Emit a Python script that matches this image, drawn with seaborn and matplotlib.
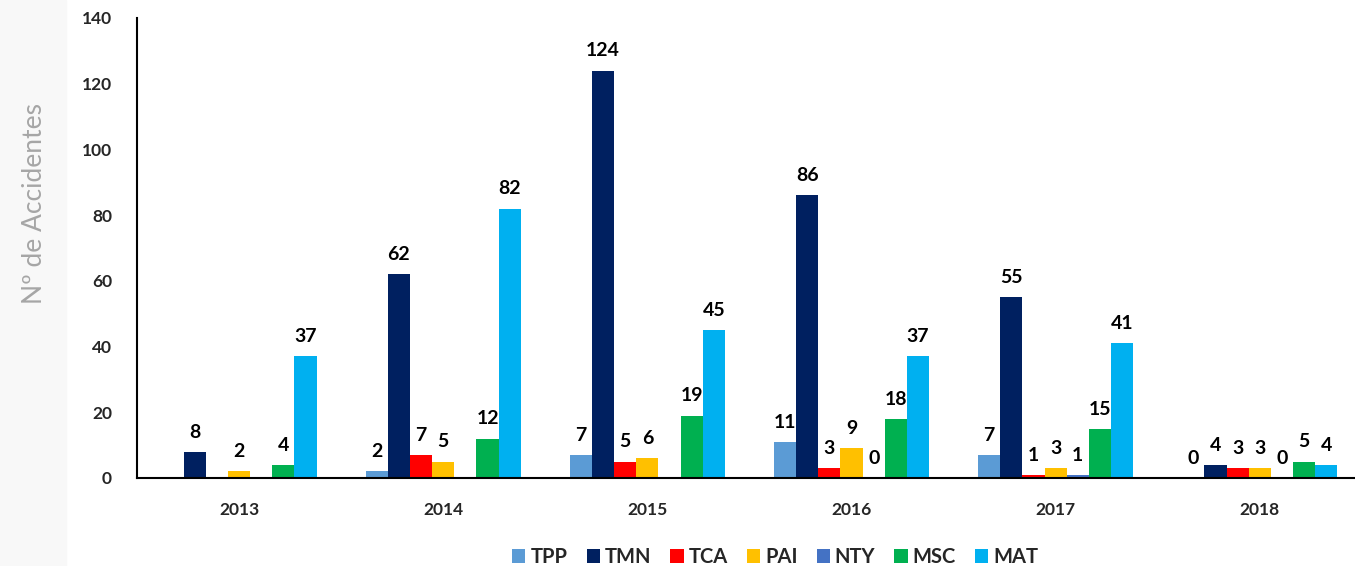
import matplotlib.pyplot as plt
import matplotlib.patches as mpatches
import numpy as np
import pandas as pd
import seaborn as sns

years = ["2013", "2014", "2015", "2016", "2017", "2018"]
series = ["TPP", "TMN", "TCA", "PAI", "NTY", "MSC", "MAT"]
tpp = [np.nan, 2, 7, 11, 7, 0]
tmn = [8, 62, 124, 86, 55, 4]
tca = [np.nan, 7, 5, 3, 1, 3]
pai = [2, 5, 6, 9, 3, 3]
nty = [np.nan, np.nan, np.nan, 0, 1, 0]
msc = [4, 12, 19, 18, 15, 5]
mat = [37, 82, 45, 37, 41, 4]
colors = ["#5B9BD5", "#002060", "#FF0000", "#FFC000", "#4472C4", "#00B050", "#00B0F0"]

values = [tpp, tmn, tca, pai, nty, msc, mat]
rows = []
for name, vals in zip(series, values):
    for yr, v in zip(years, vals):
        rows.append({"year": yr, "serie": name, "value": v})
df = pd.DataFrame(rows)

sns.set_style("white")
plt.rcParams["font.family"] = ["Lato", "DejaVu Sans"]

fig = plt.figure(figsize=(13.55, 5.66), dpi=100)
fig.patches.append(
    mpatches.Rectangle((0, 0), 66 / 1355, 1, transform=fig.transFigure,
                       color="#f8f8f8", zorder=0)
)
ax = fig.add_axes([137 / 1355, 1 - 478 / 566, 1 - 137 / 1355, (478 - 18) / 566])

sns.barplot(
    data=df, x="year", y="value", hue="serie", order=years, hue_order=series,
    palette=colors, width=0.76, saturation=1, linewidth=0, errorbar=None, ax=ax,
)

for c in ax.containers:
    labels = ["" if np.isnan(v) else "{:g}".format(v) for v in c.datavalues]
    ax.bar_label(c, labels=labels, padding=8, fontsize=14, fontweight="bold",
                 color="black")

ax.set_ylim(0, 140)
ax.set_yticks(range(0, 141, 20))
ax.set_xlim(-0.5, 5.466)
ax.set_xlabel("")
ax.set_ylabel("")
ax.tick_params(axis="both", length=0, labelsize=12.5)
ax.tick_params(axis="x", pad=17)
ax.tick_params(axis="y", pad=18)
for lab in ax.get_xticklabels() + ax.get_yticklabels():
    lab.set_fontweight("bold")
for s in ["top", "right"]:
    ax.spines[s].set_visible(False)
for s in ["left", "bottom"]:
    ax.spines[s].set_color("black")
    ax.spines[s].set_linewidth(1.5)
ax.set_facecolor("none")

fig.text(35 / 1355, 1 - 203 / 566, "Nº de Accidentes", rotation=90, ha="center",
         va="center", fontsize=19, color="#a6a6a6")

handles, lbls = ax.get_legend_handles_labels()
ax.legend(handles, lbls, loc="center", bbox_to_anchor=(0.524, -0.172), ncol=7,
          frameon=False, handlelength=0.65, handleheight=0.65, handletextpad=0.25,
          columnspacing=0.95, prop={"size": 14.5, "weight": "bold"})

fig.savefig("out.png", dpi=100)
